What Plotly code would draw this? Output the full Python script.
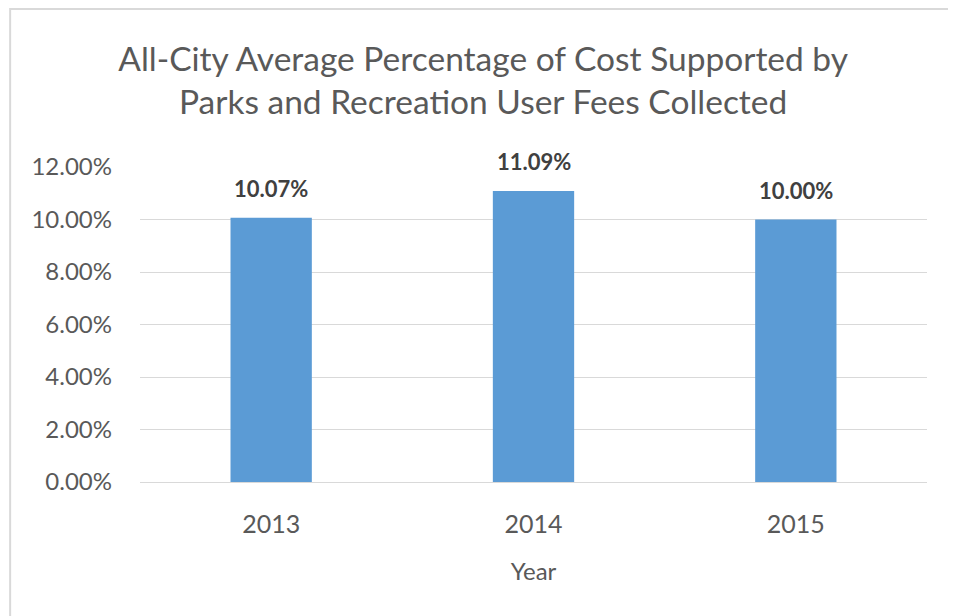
import plotly.graph_objects as go

# chart data
years = ["2013", "2014", "2015"]
pct_cost_supported = [0.1007, 0.1109, 0.1000]
y_ticks = [0, 0.02, 0.04, 0.06, 0.08, 0.10, 0.12]

bar_color = "#5B9BD5"
text_gray = "#595959"
font_family = "Lato, 'Open Sans', sans-serif"

fig = go.Figure()

fig.add_trace(go.Bar(
    x=years,
    y=pct_cost_supported,
    marker_color=bar_color,
    marker_line_width=0,
    width=0.31,
    showlegend=False,
))

# value labels above the bars (x given as category index)
for i, val in enumerate(pct_cost_supported):
    fig.add_annotation(
        x=i, y=val, text=f"<b>{val:.2%}</b>",
        showarrow=False, yanchor="bottom", yshift=14,
        font=dict(family=font_family, size=22, color="#404040"),
    )

fig.update_xaxes(
    type="category",
    range=[-0.5, len(years) - 0.5],
    title_text="Year",
    title_font=dict(family=font_family, size=24, color=text_gray),
    tickfont=dict(family=font_family, size=25, color=text_gray),
    showline=False, showgrid=False, ticks="",
    ticklabelstandoff=25,
    title_standoff=26,
)
fig.update_yaxes(
    range=[0, 0.12],
    tickvals=y_ticks,
    tickformat=".2%",
    tickfont=dict(family=font_family, size=24, color=text_gray),
    gridcolor="#D9D9D9", gridwidth=1,
    zeroline=True, zerolinecolor="#D9D9D9", zerolinewidth=1,
    showline=False, ticks="",
    ticklabelstandoff=27,
)

# light frame around the whole chart
fig.add_shape(
    type="rect", xref="paper", yref="paper",
    x0=-0.165, x1=1.0394, y0=-0.5, y1=1.5016,
    line=dict(color="#D9D9D9", width=2), fillcolor="rgba(0,0,0,0)",
    layer="below",
)

fig.update_layout(
    width=956, height=616,
    margin=dict(l=132, r=37, t=159, b=142, autoexpand=False),
    paper_bgcolor="white", plot_bgcolor="white",
    title=dict(
        text="All-City Average Percentage of Cost Supported by<br>Parks and Recreation User Fees Collected",
        x=0.497, xanchor="center", y=0.898, yanchor="middle",
        font=dict(family=font_family, size=33.5, color=text_gray),
    ),
)

fig.write_html("out.html")
